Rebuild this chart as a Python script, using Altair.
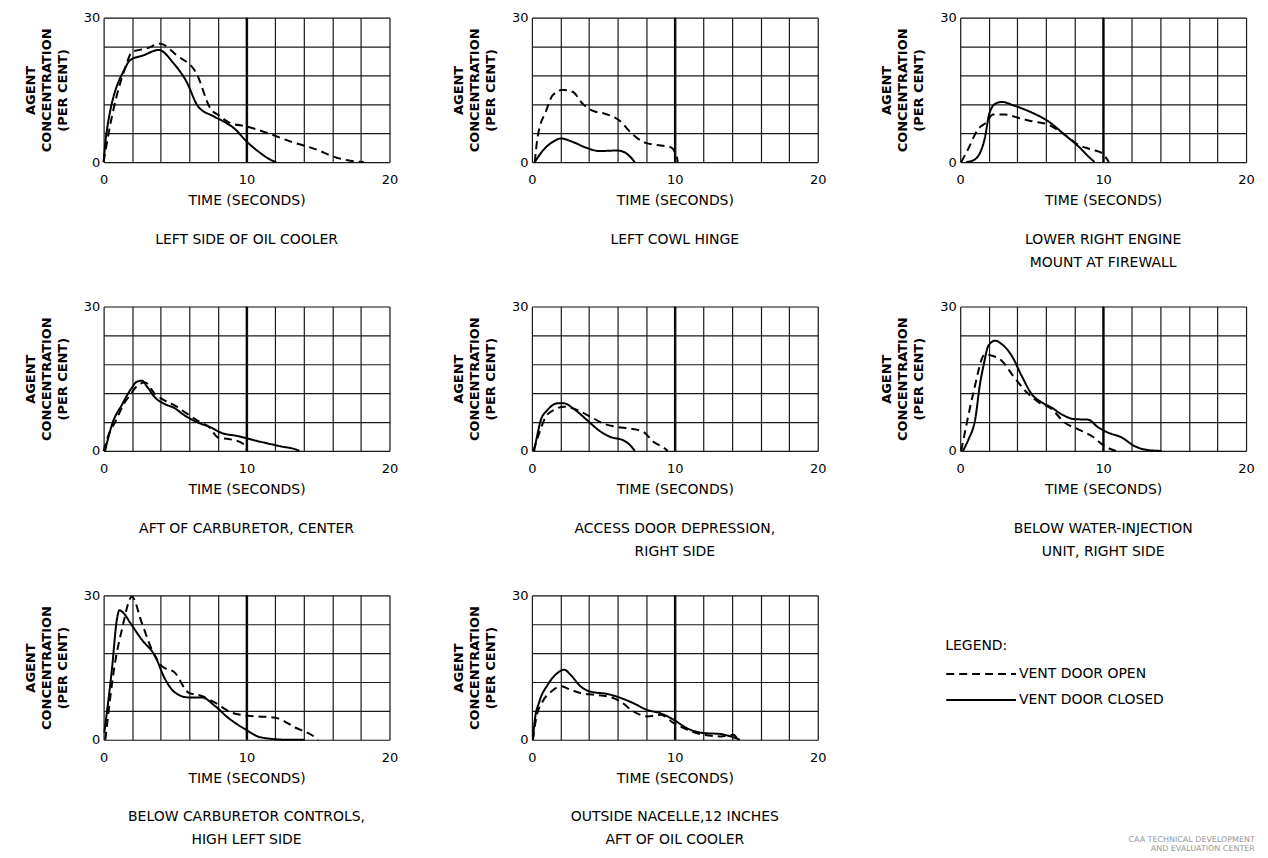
import altair as alt
import pandas as pd

FONT = "DejaVu Sans"
SERIES = ["VENT DOOR OPEN", "VENT DOOR CLOSED"]

X_TICKS = [0, 2, 4, 6, 8, 10, 12, 14, 16, 18, 20]
Y_TICKS = [0, 6, 12, 18, 24, 30]
EMPH_X = [10]

TITLES = [
    ["LEFT SIDE OF OIL COOLER"],
    ["LEFT COWL HINGE"],
    ["LOWER RIGHT ENGINE", "MOUNT AT FIREWALL"],
    ["AFT OF CARBURETOR, CENTER"],
    ["ACCESS DOOR DEPRESSION,", "RIGHT SIDE"],
    ["BELOW WATER-INJECTION", "UNIT, RIGHT SIDE"],
    ["BELOW CARBURETOR CONTROLS,", "HIGH LEFT SIDE"],
    ["OUTSIDE NACELLE,12 INCHES", "AFT OF OIL COOLER"],
]

# Panel 1: left side of oil cooler
P1_OPEN_T = [0, 0.35, 1.5, 2.0, 3.0, 3.96, 5.1, 6.5, 7.46, 8.16, 8.86, 10.0, 11.4, 13.05, 14.9, 16.3, 17.25, 18.2]
P1_OPEN_C = [0, 6, 19.5, 22.9, 23.6, 24.6, 22.2, 18.4, 11.2, 9.5, 8.1, 7.4, 6.1, 4.3, 2.6, 0.9, 0.3, 0]
P1_CLOSED_T = [0, 0.2, 1.5, 1.86, 2.8, 3.85, 4.9, 5.8, 6.6, 7.7, 8.6, 9.1, 10.0, 10.96, 11.8, 12.1]
P1_CLOSED_C = [0, 6, 19.5, 21.2, 22.2, 23.3, 20.5, 16.7, 11.6, 9.5, 8.1, 7.1, 4.3, 1.9, 0.3, 0]

# Panel 2: left cowl hinge
P2_OPEN_T = [0.2, 0.4, 1.0, 1.46, 2.15, 2.85, 3.55, 4.24, 5.17, 6.1, 7.0, 7.95, 8.9, 9.7, 10.15, 10.2]
P2_OPEN_C = [0, 5.2, 10.7, 13.9, 15.0, 14.6, 12.1, 10.7, 10.0, 8.7, 5.9, 4.0, 3.5, 3.1, 1.0, 0]
P2_CLOSED_T = [0.2, 0.77, 1.46, 2.04, 2.85, 3.78, 4.7, 5.98, 6.56, 7.0, 7.2]
P2_CLOSED_C = [0, 2.4, 4.2, 4.9, 4.2, 3.0, 2.3, 2.4, 1.9, 0.7, 0]

# Panel 3: lower right engine mount at firewall
P3_OPEN_T = [0.07, 0.54, 1.24, 1.8, 2.3, 3.1, 4.05, 5.0, 6.15, 7.3, 8.26, 9.2, 9.9, 10.4]
P3_OPEN_C = [0, 2.6, 6.8, 8.2, 9.9, 9.9, 9.2, 8.5, 7.8, 5.7, 3.6, 2.6, 1.9, 0]
P3_CLOSED_T = [0.42, 1.0, 1.7, 2.06, 2.5, 2.9, 3.8, 5.0, 6.15, 7.3, 8.26, 8.96, 9.4]
P3_CLOSED_C = [0, 0.5, 4.7, 10.3, 12.2, 12.5, 11.7, 10.3, 8.5, 5.7, 3.3, 1.2, 0]

# Panel 4: aft of carburetor, center
P4_OPEN_T = [0, 0.28, 0.85, 1.4, 1.9, 2.34, 2.9, 3.6, 4.07, 5.0, 5.7, 6.6, 7.4, 8.0, 8.9, 9.8, 10.05]
P4_OPEN_C = [0, 2.8, 6.25, 9.7, 11.8, 13.5, 14.2, 11.8, 10.8, 9.4, 8.0, 6.25, 4.9, 2.8, 2.4, 1.4, 0]
P4_CLOSED_T = [0.1, 0.6, 1.3, 1.9, 2.34, 2.7, 3.0, 3.6, 4.3, 4.9, 5.7, 6.6, 7.5, 8.2, 9.36, 10.7, 12.3, 13.6, 13.7]
P4_CLOSED_C = [0, 5.6, 9.7, 12.8, 14.4, 14.6, 13.5, 11.1, 9.7, 9.0, 7.3, 5.9, 4.9, 3.8, 3.1, 2.1, 1.0, 0.14, 0]

# Panel 5: access door depression, right side
P5_OPEN_T = [0.1, 0.5, 0.97, 1.55, 2.24, 3.17, 4.1, 5.0, 5.94, 6.87, 7.8, 8.5, 9.3, 9.5]
P5_OPEN_C = [0, 3.6, 7.1, 8.5, 9.2, 8.5, 7.1, 5.7, 5.0, 4.65, 3.96, 1.9, 0.5, 0]
P5_CLOSED_T = [0.16, 0.4, 0.62, 1.09, 1.8, 2.24, 2.9, 3.86, 4.67, 5.5, 6.4, 6.87, 7.2]
P5_CLOSED_C = [0, 3.6, 6.4, 8.5, 9.9, 9.9, 8.8, 6.4, 4.3, 2.9, 2.2, 1.2, 0]

# Panel 6: below water-injection unit, right side
P6_OPEN_T = [0.07, 0.47, 0.93, 1.74, 2.2, 2.9, 3.7, 4.65, 5.5, 6.4, 7.3, 8.26, 9.2, 10.1, 10.9]
P6_OPEN_C = [0, 5.9, 12.2, 20.1, 19.8, 18.75, 15.6, 12.2, 10.1, 8.7, 5.9, 4.5, 3.1, 1.0, 0]
P6_CLOSED_T = [0.19, 0.58, 1.05, 1.4, 1.63, 1.98, 2.44, 2.9, 3.6, 4.3, 5.0, 5.7, 6.4, 7.1, 8.0, 8.95, 9.65, 10.35, 11.3, 12.2, 13.1, 14.1]
P6_CLOSED_C = [0, 2.4, 6.6, 14.2, 17.7, 21.9, 22.9, 22.2, 19.8, 15.6, 11.8, 10.1, 9.0, 7.6, 6.6, 6.5, 4.9, 3.8, 2.8, 1.0, 0.2, 0]

# Panel 7: below carburetor controls, high left side
P7_OPEN_T = [0.12, 0.8, 1.28, 1.98, 2.67, 3.37, 4.07, 5.0, 5.93, 6.86, 7.8, 8.95, 10.1, 12.0, 13.4, 14.8, 15.0]
P7_OPEN_C = [0, 16.0, 22.9, 29.7, 24.3, 18.75, 15.3, 13.9, 9.8, 9.1, 7.7, 5.65, 5.0, 4.6, 2.55, 0.5, 0]
P7_CLOSED_T = [0.05, 0.58, 0.93, 1.1, 1.4, 1.86, 2.67, 3.6, 4.3, 5.0, 5.93, 6.86, 7.8, 8.7, 9.9, 11.0, 12.9, 14.07]
P7_CLOSED_C = [1.5, 14.6, 25.0, 26.9, 26.3, 24.3, 20.8, 17.4, 12.6, 9.8, 8.8, 8.8, 7.0, 4.6, 2.2, 0.5, 0, 0]

# Panel 8: outside nacelle, 12 inches aft of oil cooler
P8_OPEN_T = [0.07, 0.3, 0.76, 1.34, 2.04, 2.7, 3.4, 4.36, 5.3, 6.2, 7.1, 8.06, 9.0, 9.9, 10.85, 12.0, 13.2, 14.1, 14.4]
P8_OPEN_C = [0, 4.5, 8.0, 10.0, 11.1, 10.4, 9.7, 9.35, 9.0, 7.96, 5.9, 4.85, 5.2, 3.5, 2.1, 1.04, 0.7, 1.04, 0]
P8_CLOSED_T = [0.07, 0.19, 0.53, 1.1, 1.8, 2.27, 2.7, 3.4, 4.1, 5.3, 6.2, 7.1, 8.06, 9.0, 9.9, 10.85, 12.0, 13.2, 13.9, 14.55]
P8_CLOSED_C = [0, 3.8, 8.0, 11.4, 13.9, 14.55, 13.5, 11.1, 10.0, 9.5, 8.7, 7.6, 6.2, 5.5, 4.2, 2.4, 1.4, 1.2, 0.7, 0]

PANELS = [
    (P1_OPEN_T, P1_OPEN_C, P1_CLOSED_T, P1_CLOSED_C),
    (P2_OPEN_T, P2_OPEN_C, P2_CLOSED_T, P2_CLOSED_C),
    (P3_OPEN_T, P3_OPEN_C, P3_CLOSED_T, P3_CLOSED_C),
    (P4_OPEN_T, P4_OPEN_C, P4_CLOSED_T, P4_CLOSED_C),
    (P5_OPEN_T, P5_OPEN_C, P5_CLOSED_T, P5_CLOSED_C),
    (P6_OPEN_T, P6_OPEN_C, P6_CLOSED_T, P6_CLOSED_C),
    (P7_OPEN_T, P7_OPEN_C, P7_CLOSED_T, P7_CLOSED_C),
    (P8_OPEN_T, P8_OPEN_C, P8_CLOSED_T, P8_CLOSED_C),
]

W, H = 287, 145


def panel(title_lines, ot, oc, ct, cc):
    df = pd.concat([
        pd.DataFrame({"t": ot, "c": oc, "s": SERIES[0]}),
        pd.DataFrame({"t": ct, "c": cc, "s": SERIES[1]}),
    ], ignore_index=True)
    xscale = alt.Scale(domain=[0, 20], nice=False)
    xaxis = alt.Axis(values=X_TICKS,
                     labelExpr="datum.value % 10 == 0 ? datum.label : ''",
                     title="TIME (SECONDS)", ticks=False, domain=False,
                     grid=True, gridColor="#1a1a1a", gridWidth=1.2,
                     labelFlush=False, labelOverlap=False,
                     labelFontSize=13, labelPadding=12,
                     labelFont=FONT, titleFont=FONT, titleFontSize=14,
                     titleFontWeight="normal", titlePadding=7,
                     labelColor="black", titleColor="black")
    x = alt.X("t:Q", scale=xscale, axis=xaxis)
    y = alt.Y("c:Q", scale=alt.Scale(domain=[0, 30], nice=False),
              axis=alt.Axis(values=Y_TICKS,
                            labelExpr="datum.value % 30 == 0 ? datum.label : ''",
                            title=["AGENT", "CONCENTRATION", "(PER CENT)"],
                            ticks=False, domain=False, grid=True, labelOverlap=False,
                            gridColor="#1a1a1a", gridWidth=1.2,
                            labelFontSize=13, labelPadding=4, labelFont=FONT,
                            titleFont=FONT, titleFontSize=13, titleFontWeight="bold",
                            titleLineHeight=16, titlePadding=14,
                            labelColor="black", titleColor="black"))
    emph = alt.Chart(pd.DataFrame({"t": EMPH_X})).mark_rule(
        color="black", strokeWidth=1.8).encode(x=alt.X("t:Q", scale=xscale, axis=xaxis))
    lines = alt.Chart(df).mark_line(color="black", strokeWidth=2, interpolate="monotone").encode(
        x=x, y=y,
        strokeDash=alt.StrokeDash(
            "s:N",
            scale=alt.Scale(domain=SERIES, range=[[8, 5], [1, 0]]),
            legend=alt.Legend(title="LEGEND:", orient="none", legendX=845, legendY=624,
                              symbolType="M-1,0H6", symbolSize=400, symbolStrokeWidth=2,
                              symbolStrokeColor="black", labelFontSize=14, titleFontSize=14,
                              titleFontWeight="normal", labelFont=FONT, titleFont=FONT,
                              labelColor="black", titleColor="black",
                              rowPadding=8, titlePadding=10, labelOffset=52)),
    )
    return alt.layer(lines, emph).properties(
        width=W, height=H,
        title=alt.TitleParams(text=title_lines, orient="bottom", offset=25, fontSize=14,
                              fontWeight="normal", font=FONT, lineHeight=23,
                              color="black", anchor="middle"))


charts = [panel(TITLES[i], *PANELS[i]) for i in range(8)]

row1 = alt.hconcat(*charts[0:3], spacing=53).resolve_scale(strokeDash="shared").resolve_legend(strokeDash="shared")
row2 = alt.hconcat(*charts[3:6], spacing=53).resolve_scale(strokeDash="shared").resolve_legend(strokeDash="shared")
row3 = alt.hconcat(*charts[6:8], spacing=53).resolve_scale(strokeDash="shared").resolve_legend(strokeDash="shared")

chart = alt.vconcat(row1, row2, row3, spacing=29).resolve_scale(
    strokeDash="shared").resolve_legend(strokeDash="shared").properties(
    padding={"left": 15, "top": 1, "right": 5, "bottom": 5},
    title=alt.TitleParams(text=["CAA TECHNICAL DEVELOPMENT", "AND EVALUATION CENTER"],
                          orient="bottom", anchor="end", fontSize=8, color="#999999",
                          fontWeight="normal", font=FONT, offset=-12, lineHeight=9),
).configure_view(stroke="black", strokeWidth=2).configure(background="white")

chart.save("out.html", embed_options={"renderer": "svg", "actions": False})
